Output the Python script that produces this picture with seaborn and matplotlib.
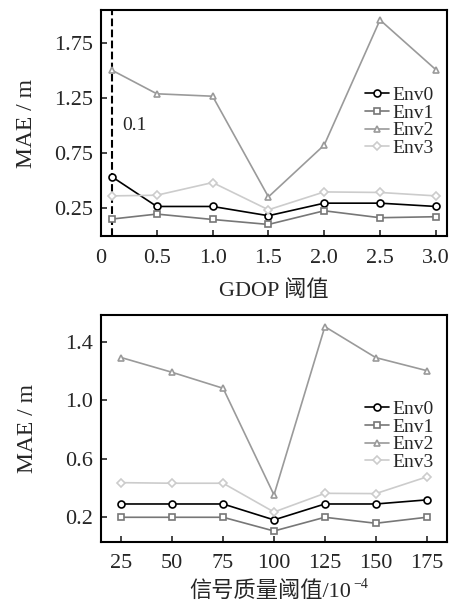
import matplotlib
matplotlib.use("Agg")
import matplotlib.pyplot as plt
import numpy as np
import pandas as pd
import seaborn as sns

# top panel: GDOP threshold
gdop = [0.1, 0.5, 1.0, 1.5, 2.0, 2.5, 3.0]
gdop_env0 = [0.536, 0.268, 0.268, 0.184, 0.298, 0.298, 0.268]
gdop_env1 = [0.154, 0.199, 0.150, 0.105, 0.229, 0.166, 0.175]
gdop_env2 = [1.503, 1.290, 1.268, 0.355, 0.825, 1.960, 1.509]
gdop_env3 = [0.364, 0.370, 0.485, 0.238, 0.400, 0.395, 0.364]

# bottom panel: signal quality threshold (x 1e-4)
sq = [25, 50, 75, 100, 125, 150, 175]
sq_env0 = [0.291, 0.291, 0.291, 0.182, 0.291, 0.291, 0.319]
sq_env1 = [0.200, 0.200, 0.200, 0.106, 0.200, 0.159, 0.200]
sq_env2 = [1.293, 1.192, 1.083, 0.353, 1.505, 1.293, 1.204]
sq_env3 = [0.437, 0.433, 0.433, 0.236, 0.364, 0.362, 0.476]

envs = ["Env0", "Env1", "Env2", "Env3"]
colors = ["#000000", "#777777", "#9a9a9a", "#cccccc"]
markers = ["o", "s", "^", "D"]
msizes = [5, 5, 5, 4.5]

sns.set_style("ticks")
plt.rcParams["font.family"] = ["Liberation Serif", "Noto Sans CJK SC", "DejaVu Sans"]
plt.rcParams["axes.linewidth"] = 1.5


def draw(ax, x, series, leg_y):
    rows = []
    for name, vals in zip(envs, series):
        for xv, yv in zip(x, vals):
            rows.append({"x": xv, "MAE": yv, "env": name})
    df = pd.DataFrame(rows)
    for name, c, m, ms in zip(envs, colors, markers, msizes):
        sub = df[df["env"] == name]
        sns.lineplot(data=sub, x="x", y="MAE", ax=ax, color=c, marker=m,
                     markersize=ms, markerfacecolor="white", markeredgecolor=c,
                     markeredgewidth=1.2, linewidth=1.2, label=name)
    ax.tick_params(direction="in", length=4, width=1.2, labelsize=16, top=False, right=False)
    ax.tick_params(axis="x", pad=9)
    ax.tick_params(axis="y", pad=6)
    ax.legend(loc="center right", bbox_to_anchor=(0.985, leg_y), frameon=False,
              fontsize=14, handlelength=1.2, handletextpad=0.2,
              labelspacing=0.0, borderaxespad=0)
    for s in ax.spines.values():
        s.set_color("black")
        s.set_linewidth(1.5)


fig = plt.figure(figsize=(4.54, 6.03), dpi=100)
ax1 = fig.add_axes([0.2225, 0.6086, 0.762, 0.3748])
ax2 = fig.add_axes([0.2225, 0.1017, 0.762, 0.3760])

draw(ax1, gdop, [gdop_env0, gdop_env1, gdop_env2, gdop_env3], 0.505)
ax1.axvline(0.1, color="black", linestyle="--", linewidth=1.5, zorder=0.5)
ax1.text(0.19, 1.0, "0.1", fontsize=14, va="center", ha="left")
ax1.set_xlim(0, 3.1)
ax1.set_ylim(0, 2.05)
ax1.set_xticks([0, 0.5, 1.0, 1.5, 2.0, 2.5, 3.0])
ax1.set_xticklabels(["0", "0.5", "1.0", "1.5", "2.0", "2.5", "3.0"])
ax1.set_yticks([0.25, 0.75, 1.25, 1.75])
ax1.set_xlabel("GDOP 阈值", fontsize=16, labelpad=9)
ax1.set_ylabel("MAE / m", fontsize=17, labelpad=12)

draw(ax2, sq, [sq_env0, sq_env1, sq_env2, sq_env3], 0.467)
ax2.set_xlim(15, 185)
ax2.set_ylim(0.033, 1.585)
ax2.set_xticks(sq)
ax2.set_yticks([0.2, 0.6, 1.0, 1.4])
ax2.set_xlabel("信号质量阈值/10", fontsize=16, labelpad=6)
ax2.xaxis.label.set_x(0.49)
ax2.set_ylabel("MAE / m", fontsize=17, labelpad=19)

# superscript exponent attached to the top-right corner of the x label
ax2.annotate("\u22124", xy=(1, 1), xycoords=ax2.xaxis.label,
             xytext=(1, -2), textcoords="offset points",
             fontsize=10, ha="left", va="center")

fig.savefig("out.png", dpi=100)
